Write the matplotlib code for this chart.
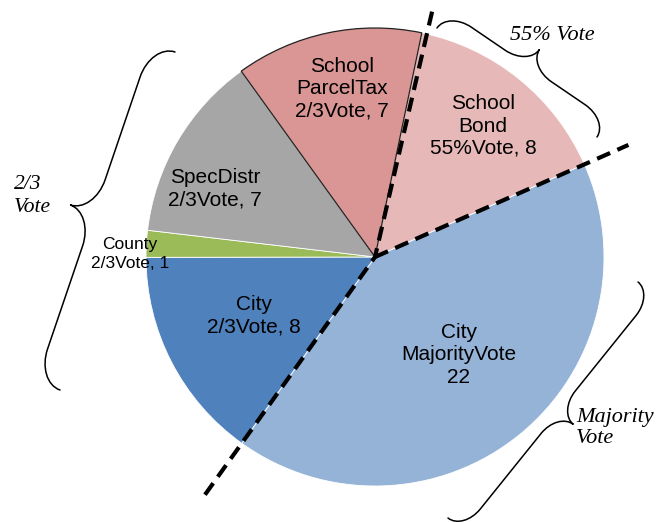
import numpy as np
import matplotlib.pyplot as plt
from matplotlib.path import Path
from matplotlib.patches import PathPatch

W, H = 671, 522

# slices, clockwise from the top
slice_names = ["School\nBond", "City", "City", "County", "SpecDistr", "School\nParcelTax"]
vote_rules = ["55%Vote", "MajorityVote", "2/3Vote", "2/3Vote", "2/3Vote", "2/3Vote"]
counts = [8, 22, 8, 1, 7, 7]
colors = ["#E6B9B8", "#95B3D7", "#4F81BD", "#9BBB59", "#A6A6A6", "#D99694"]

group_labels = ["55% Vote", "2/3\nVote", "Majority\nVote"]


def px(x, y):
    # pixel coords (origin top-left) -> data coords
    return np.array([x, H - y], dtype=float)


def brace(ax, p0, p1, width, away_from, lw=1.1):
    p0, p1 = px(*p0), px(*p1)
    d = p1 - p0
    L = np.hypot(*d)
    eu = d / L
    ev = np.array([-eu[1], eu[0]])
    if np.dot(ev, (p0 + p1) / 2 - away_from) < 0:
        ev = -ev
    h = width / 2
    a = 1.4 * h
    k = 0.552
    m = L / 2
    local = [
        (0, 0),
        (0, k * h), (a * (1 - k), h), (a, h),
        (m - a, h),
        (m - a + k * a, h), (m, 2 * h - k * h), (m, 2 * h),
        (m, 2 * h - k * h), (m + a - k * a, h), (m + a, h),
        (L - a, h),
        (L - a + k * a, h), (L, k * h), (L, 0),
    ]
    codes = ([Path.MOVETO] + [Path.CURVE4] * 3 + [Path.LINETO] + [Path.CURVE4] * 6
             + [Path.LINETO] + [Path.CURVE4] * 3)
    verts = [p0 + u * eu + v * ev for u, v in local]
    ax.add_patch(PathPatch(Path(verts, codes), fill=False, lw=lw, color="black",
                           capstyle="round", zorder=5))


fig = plt.figure(figsize=(W / 100, H / 100), dpi=100)
ax = fig.add_axes([0, 0, 1, 1])

center = px(375, 257)
R = 229

wedges, _ = ax.pie(counts, colors=colors, startangle=78.2, counterclock=False,
                   center=tuple(center), radius=R,
                   wedgeprops=dict(edgecolor="white", linewidth=0.6))
# parcel tax slice keeps a thin dark outline
wedges[-1].set_edgecolor("#222222")
wedges[-1].set_linewidth(0.9)

ax.set_xlim(0, W)
ax.set_ylim(0, H)
ax.set_aspect("equal")
ax.axis("off")

# slice labels
label_pos = [(483, 126), (459, 355), (254, 316), (130, 254), (215, 189), (342, 89)]
for name, rule, n, (lx, ly) in zip(slice_names, vote_rules, counts, label_pos):
    if rule == "MajorityVote":
        txt = f"{name}\n{rule}\n{n}"
    else:
        txt = f"{name}\n{rule}, {n}"
    small = name == "County"
    ax.text(lx, H - ly, txt, ha="center", va="center",
            fontsize=12.5 if small else 15, family="Liberation Sans",
            linespacing=1.3 if small else 1.22, zorder=4)


def rim(theta, r):
    t = np.radians(theta)
    return center + r * np.array([np.cos(t), np.sin(t)])


# dashed dividers between the vote thresholds
top = rim(wedges[0].theta2 - 1.3, 1.10 * R)
bottom = rim(wedges[1].theta1, 1.30 * R)
right = rim(wedges[0].theta1, 1.21 * R)
for pts in ([top, center, bottom], [center, right]):
    pts = np.array(pts)
    ln, = ax.plot(pts[:, 0], pts[:, 1], color="black", lw=3.0, zorder=6,
                  solid_capstyle="butt", dash_capstyle="butt")
    ln.set_dashes([3.4, 1.9])

# braces and group captions
brace(ax, (437, 28), (597, 137), 40, center)
brace(ax, (175, 52), (60, 390), 50, center)
brace(ax, (638, 282), (448, 518), 39, center)

serif = dict(family="Liberation Serif", style="italic", zorder=5)
ax.text(552, H - 35, group_labels[0], ha="center", va="center", fontsize=16, **serif)
ax.text(14, H - 196, group_labels[1], ha="left", va="center", fontsize=15.5,
        linespacing=1.25, **serif)
ax.text(576, H - 428, group_labels[2], ha="left", va="center", fontsize=16,
        linespacing=1.2, **serif)

fig.savefig("out.png", dpi=100)
